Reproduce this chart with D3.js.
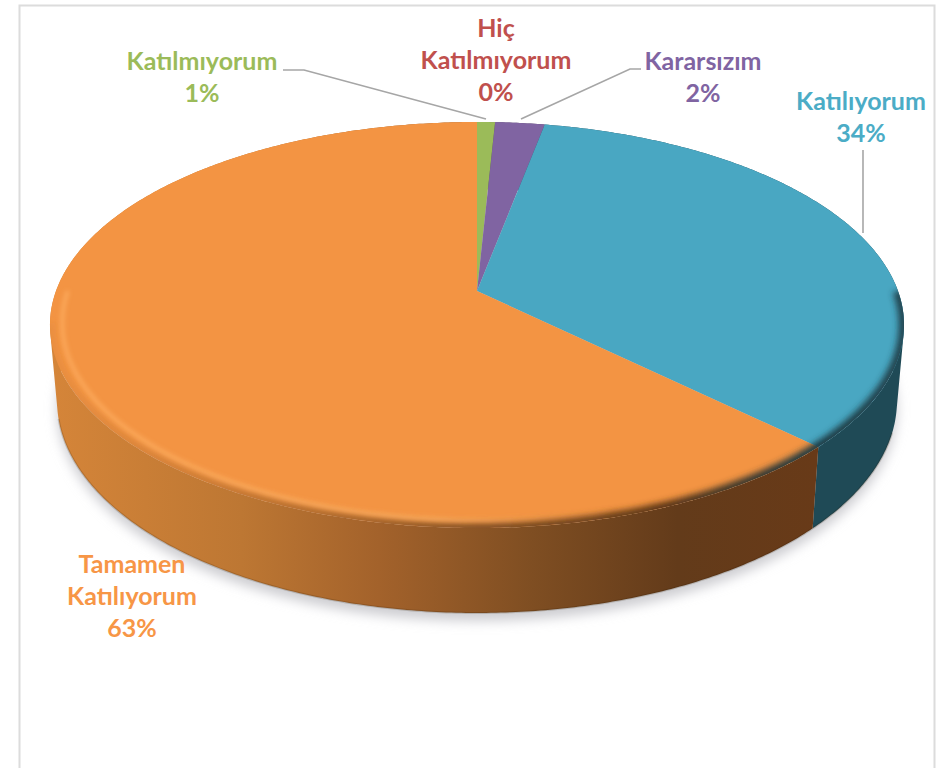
<!DOCTYPE html>
<html><head><meta charset="utf-8">
<script src="https://cdn.jsdelivr.net/npm/d3@7"></script>
<style>html,body{margin:0;padding:0;background:#fff;overflow:hidden}svg{display:block}
text{font-family:Lato,"Open Sans",sans-serif;font-weight:700}</style></head>
<body><div id="c"></div>
<script>
(function(){
const categories = ["Katılmıyorum","Hiç Katılmıyorum","Kararsızım","Katılıyorum","Tamamen Katılıyorum"];
const values = [0.8, 0, 2.2, 34.3, 62.7];
const topColors = ["#9bbb59","#c0504d","#8064a2","#49a7c2","#f39443"];
const textColors = ["#9bbb59","#c0504d","#8064a2","#4bacc6","#f79646"];
const labelLines = [["Katılmıyorum"],["Hiç","Katılmıyorum"],["Kararsızım"],["Katılıyorum"],["Tamamen","Katılıyorum"]];

const W=939,H=768;
const svg=d3.select("#c").append("svg").attr("width",W).attr("height",H);
const defs=svg.append("defs");

// perspective disc: unit circle mapped through a homography
const k=0.1675;
const cx=477;
const xS=d3.scaleLinear().domain([-1,1]).range([cx-421,cx+421]);
const yTop=d3.scaleLinear().domain([-1,1]).range([291-197.3,291+197.3]);
const xBot=d3.scaleLinear().domain([-1,1]).range([cx-414,cx+414]);
const yBot=d3.scaleLinear().domain([-1,1]).range([365.5-206,365.5+206]);
function proj(a,r,xs,ys){
  const u=r*Math.sin(a),v=-r*Math.cos(a),w=1-k*v;
  return [xs(u/w),ys(v/w)];
}
const sample=(a0,a1)=>{const n=Math.max(2,Math.ceil((a1-a0)/0.01));return d3.range(n+1).map(i=>a0+(a1-a0)*i/n);};
const line=d3.line();
const pie=d3.pie().sort(null).startAngle(0).endAngle(2*Math.PI)(values);

// filters
const blur=(id,s)=>defs.append("filter").attr("id",id).attr("x","-20%").attr("y","-20%").attr("width","140%").attr("height","140%")
  .append("feGaussianBlur").attr("stdDeviation",s);
blur("sh",6);blur("b3",3);blur("b2",2);

// frame
const frame=svg.append("g").attr("stroke","#dcdcdc").attr("stroke-width",2).attr("fill","none");
frame.append("path").attr("d",line([[19.5,H],[19.5,5.5],[934.5,5.5],[934.5,H]]));

// shadow
const rimB=sample(0,2*Math.PI).map(a=>proj(a,1,xBot,yBot));
svg.append("path").attr("d",line(rimB)+"Z").attr("fill","#cdcdd1").attr("filter","url(#sh)").attr("transform","translate(0,8)");

// side gradients
const gO=defs.append("linearGradient").attr("id","gO").attr("gradientUnits","userSpaceOnUse").attr("x1",50).attr("x2",815).attr("y1",0).attr("y2",0);
[[0,"#d58539"],[0.25,"#bd7733"],[0.43,"#a3622b"],[0.63,"#7f4e22"],[0.82,"#633b1a"],[1,"#683a18"]].forEach(s=>gO.append("stop").attr("offset",s[0]).attr("stop-color",s[1]));
const sideColors=["#5f7437","#772f2e","#4e3d63","#1f4a56","url(#gO)"];

// wall: a single path of same-wound quads, so the silhouette follows the tangent between rims
const sides=svg.append("g");
pie.forEach((d,i)=>{
  if(d.endAngle<=d.startAngle) return;
  const as=sample(d.startAngle,d.endAngle);
  const strip=d3.pairs(as).map(q=>{
    const p=[proj(q[0],1,xS,yTop),proj(q[1],1,xS,yTop),proj(q[1],1,xBot,yBot),proj(q[0],1,xBot,yBot)];
    if(d3.polygonArea(p)<0) p.reverse();
    return line(p)+"Z";
  }).join("");
  sides.append("path").attr("d",strip).attr("fill",sideColors[i]);
});
// thin darker lower edge of the wall
svg.append("path").attr("d",line(sample(0.6*Math.PI,1.42*Math.PI).map(a=>proj(a,1,xBot,yBot))))
  .attr("fill","none").attr("stroke","#2e1a08").attr("stroke-opacity",0.18).attr("stroke-width",2);

// top face
const rimT=sample(0,2*Math.PI).map(a=>proj(a,1,xS,yTop));
defs.append("clipPath").attr("id","topClip").append("path").attr("d",line(rimT)+"Z");
const face=svg.append("g");
const apex=proj(0,0,xS,yTop);
pie.forEach((d,i)=>{
  if(d.endAngle<=d.startAngle) return;
  const pts=[apex].concat(sample(d.startAngle,d.endAngle).map(a=>proj(a,1,xS,yTop)));
  face.append("path").attr("d",line(pts)+"Z").attr("fill",topColors[i]);
});

// bevel: soft dark edge and a thin highlight inside it
const gD=defs.append("linearGradient").attr("id","gD").attr("gradientUnits","userSpaceOnUse").attr("x1",50).attr("x2",905).attr("y1",0).attr("y2",0);
[[0,"#b9722f",0.15],[0.25,"#a8662a",0.7],[0.5,"#7f4e22",0.95],[0.72,"#5a3516",1],[0.9,"#1c3b44",1],[1,"#1c3b44",0.9]].forEach(s=>gD.append("stop").attr("offset",s[0]).attr("stop-color",s[1]).attr("stop-opacity",s[2]));
const gH=defs.append("linearGradient").attr("id","gH").attr("gradientUnits","userSpaceOnUse").attr("x1",50).attr("x2",905).attr("y1",0).attr("y2",0);
[[0,"#ffb164",0.7],[0.45,"#ffb164",0.8],[0.6,"#ffb164",0.15],[0.66,"#ffb164",0]].forEach(s=>gH.append("stop").attr("offset",s[0]).attr("stop-color",s[1]).attr("stop-opacity",s[2]));
const bevel=svg.append("g").attr("clip-path","url(#topClip)");
bevel.append("path").attr("d",line(sample(0.5*Math.PI,1.45*Math.PI).map(a=>proj(a,1.0,xS,yTop))))
  .attr("fill","none").attr("stroke","url(#gD)").attr("stroke-width",11).attr("filter","url(#b3)");
bevel.append("path").attr("d",line(sample(0.72*Math.PI,1.5*Math.PI).map(a=>proj(a,0.972,xS,yTop))))
  .attr("fill","none").attr("stroke","url(#gH)").attr("stroke-width",4).attr("filter","url(#b2)");

// leaders
const leaders=[[[283,70],[304,70],[486,119]],[[641,69],[630,69],[521,119]],[[863,150],[863,233]]];
svg.append("g").attr("fill","none").attr("stroke","#a6a6a6").attr("stroke-width",1.6)
  .selectAll("path").data(leaders).join("path").attr("d",d=>line(d));

// labels
const labelPos=[[202,70],[496,37],[703,70],[861,110],[132,573]];
const lh=32;
const lab=svg.append("g").attr("text-anchor","middle").attr("font-size",25);
categories.forEach((c,i)=>{
  const lines=labelLines[i].concat([Math.round(values[i])+"%"]);
  lab.selectAll(null).data(lines).join("text")
    .attr("x",labelPos[i][0]).attr("y",(d,j)=>labelPos[i][1]+j*lh)
    .attr("fill",textColors[i]).text(d=>d);
});
})();
</script></body></html>
